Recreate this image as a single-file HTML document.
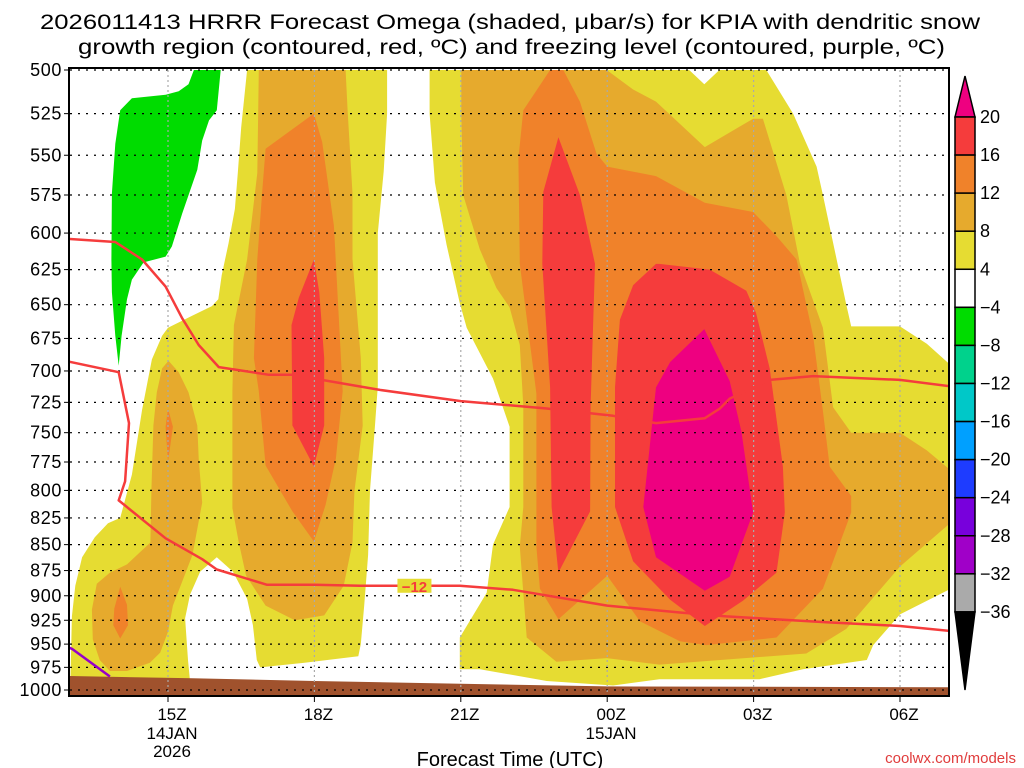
<!DOCTYPE html>
<html><head><meta charset="utf-8"><style>
body{margin:0;background:#fff;}
svg{display:block;font-family:"Liberation Sans",sans-serif;}
</style></head><body>
<svg id="chart" width="1024" height="768" viewBox="0 0 1024 768">
<text x="40" y="29" font-size="21" textLength="940" lengthAdjust="spacingAndGlyphs">2026011413 HRRR Forecast Omega (shaded, μbar/s) for KPIA with dendritic snow</text>
<text x="78" y="54" font-size="21" textLength="867" lengthAdjust="spacingAndGlyphs">growth region (contoured, red, ºC) and freezing level (contoured, purple, ºC)</text>
<defs><clipPath id="plotclip"><rect x="70" y="69" width="878" height="627"/></clipPath></defs>
<g id="fills" clip-path="url(#plotclip)"></g>
<g id="grid"></g>
<g id="lines" clip-path="url(#plotclip)"></g>
<rect x="69" y="68" width="880" height="628" fill="none" stroke="#000" stroke-width="2"/>
<g id="axes"></g>
<g id="cbar"></g>
<text x="510" y="766" font-size="20" text-anchor="middle">Forecast Time (UTC)</text>
<text x="1016" y="763" font-size="15" text-anchor="end" fill="#e03c3c">coolwx.com/models</text>
</svg>
<script>
// ---- data (hour from 00Z 14 Jan, pressure hPa) ----
const pressureLevels=[500,525,550,575,600,625,650,675,700,725,750,775,800,825,850,875,900,925,950,975,1000];
const timeTicks=[15,18,21,24,27,30];
const timeLabels=["15Z","18Z","21Z","00Z","03Z","06Z"];
const cbarLabels=["20","16","12","8","4","−4","−8","−12","−16","−20","−24","−28","−32","−36"];
const cbarColors=["#f53c3c","#f0822a","#e6aa2d","#e6dc32","#ffffff","#00dc00","#00d28c","#00c8c8","#00a0ff","#1e3cff","#7800dc","#a000c8","#aaaaaa"];
const yellowLeft=[[16.62,500],[19.49,500],[19.49,525],[19.42,560],[19.3,600],[19.3,650],[19.3,712],[19.24,745],[19.14,800],[19.1,860],[19.02,910],[18.95,950],[18.9,963],[17.8,970],[16.89,975],[16.82,967],[16.74,930],[16.62,903],[16.33,876],[16.0,862],[15.66,876],[15.45,899],[15.35,923],[15.41,967],[15.45,990],[13.0,990],[13.03,921],[13.1,890],[13.24,862],[13.5,843],[13.77,830],[14.02,825],[14.26,786],[14.47,731],[14.67,691],[14.88,673],[15.0,667],[15.5,658],[15.9,651],[16.03,646],[16.1,629],[16.24,607],[16.37,584],[16.43,561],[16.5,533]];
const goldLeftLobe=[[14.88,698],[15.01,692],[15.22,701],[15.42,717],[15.6,744],[15.63,772],[15.7,811],[15.5,860],[15.1,910],[15.0,937],[14.84,959],[14.63,970],[14.16,979],[13.81,979],[13.6,967],[13.46,945],[13.44,914],[13.54,888],[13.81,877],[14.16,869],[14.43,857],[14.64,848],[14.66,800],[14.7,744],[14.77,717]];
const orangeLeftBlob=[[14.02,891],[14.16,909],[14.18,930],[14.02,944],[13.88,930],[13.9,913]];
const orangeTinyBlob=[[15.0,730],[15.1,745],[15.0,775],[14.95,745]];
const goldColumn=[[16.86,500],[18.64,500],[18.68,523],[18.78,574],[18.78,618],[18.95,690],[18.99,744],[18.82,801],[18.78,848],[18.6,890],[18.2,920],[17.6,925],[17.0,910],[16.6,880],[16.45,848],[16.32,816],[16.32,716],[16.35,665],[16.62,618],[16.83,561]];
const orangeColumn=[[17.99,525],[18.16,542],[18.4,595],[18.58,716],[18.44,772],[18.23,813],[17.99,847],[17.55,819],[17.0,778],[16.86,716],[16.76,690],[16.83,618],[16.93,573],[17.0,546]];
const redColumn=[[17.99,618],[18.1,641],[18.2,690],[18.2,744],[17.99,779],[17.55,744],[17.53,665],[17.68,645]];
const yellowCenter=[[20.36,500],[25.68,500],[25.99,508],[26.3,500],[27.26,500],[27.81,525],[28.29,557],[28.42,575],[28.9,650],[29.0,666],[30.0,666],[30.55,679],[31.2,701],[31.2,889],[30.0,919],[29.45,951],[29.32,967],[28.01,977],[27.12,988],[25.07,988],[24.12,995],[22.76,990],[21.39,977],[20.98,977],[20.98,943],[21.53,897],[21.66,850],[22.0,815],[22.0,745],[21.66,706],[21.12,667],[20.98,649],[20.71,608],[20.47,567],[20.36,525]];
const goldCenter=[[21.01,500],[23.99,500],[24.53,511],[25.0,518],[26.0,545],[26.99,528],[27.19,528],[27.67,575],[27.95,621],[28.42,667],[28.63,729],[29.0,750],[30.0,750],[30.55,765],[31.2,788],[31.2,823],[30.0,871],[28.9,934],[28.08,960],[25.07,972],[23.99,965],[22.96,969],[22.35,943],[22.21,852],[22.28,815],[22.28,728],[22.21,680],[22.0,652],[21.73,638],[21.39,611],[21.05,575],[21.01,525]];
const orangeCenter=[[22.83,500],[23.1,500],[23.44,518],[23.78,549],[24.0,557],[25.0,563],[26.0,580],[26.99,586],[27.47,602],[27.88,618],[28.22,673],[28.42,732],[28.56,779],[29.0,805],[29.0,820],[28.42,893],[27.47,943],[26.03,951],[25.49,947],[24.67,926],[24.0,880],[23.0,924],[22.62,893],[22.55,852],[22.55,718],[22.21,621],[22.18,552],[22.28,523]];
const redCenterColumn=[[23.0,539],[23.44,575],[23.75,621],[23.66,728],[23.65,819],[23.0,877],[22.86,815],[22.83,713],[22.67,621],[22.69,573]];
const redBig=[[25.07,621],[26.1,625],[26.85,640],[27.05,656],[27.33,698],[27.6,779],[27.64,820],[27.47,877],[26.78,905],[26.0,931],[25.29,904],[24.53,866],[24.16,815],[24.16,713],[24.26,661],[24.53,636],[25.0,621]];
const magentaCore=[[25.99,668],[26.51,708],[26.75,749],[26.99,820],[26.51,881],[26.0,895],[25.0,862],[24.74,815],[25.0,713],[25.29,693]];
const greenRegion=[[15.53,500],[15.42,508],[15.22,512],[14.95,514],[14.26,516],[14.02,523],[13.92,543],[13.85,574],[13.84,618],[13.85,641],[13.92,673],[13.99,696],[14.05,673],[14.16,646],[14.26,632],[14.5,620],[14.95,616],[15.08,609],[15.29,587],[15.6,559],[15.7,541],[15.84,529],[16.0,523],[16.08,500]];
const groundTop=[[12.5,984],[15.5,987],[18,990],[21,993],[24,996],[31.5,997]];
const dgzTop=[[12.5,603],[13.92,606],[14.47,618],[14.95,637],[15.29,660],[15.63,680],[16.04,697],[17.07,703],[17.55,703],[19.34,715],[21.0,724],[22.76,730],[24.12,736],[25.0,742],[26.0,738],[26.31,730],[26.51,722],[27.33,707],[28.22,704],[30.0,707],[31.2,713]];
const dgzBottom=[[12.5,689],[13.99,701],[14.2,742],[14.12,792],[13.99,809],[14.95,844],[15.7,864],[16.0,874],[17.03,889],[18.0,889],[18.94,890],[20.98,890],[22.07,894],[24.0,910],[25.49,917],[26.44,921],[28.49,927],[30.0,931],[31.2,937]];
const freezingLine=[[12.8,950],[13.03,955],[13.81,985]];
const dgzLabel={h:20.05,p:890,text:"−12"};

// ---- axis functions ----
function X(h){return 168+(h-15)*48.8;}
function Y(p){return 70+Math.log(p/500)/Math.LN2*620;}
const NS="http://www.w3.org/2000/svg";
function mk(tag,attrs,parent){const e=document.createElementNS(NS,tag);for(const k in attrs)e.setAttribute(k,attrs[k]);parent.appendChild(e);return e;}
function pts(arr){return arr.map(d=>X(d[0]).toFixed(1)+","+Y(d[1]).toFixed(1)).join(" ");}
const fills=document.getElementById("fills");
function poly(arr,color,name){
  const e=mk("polygon",{points:pts(arr),fill:color},fills);
  
  
}
poly(yellowLeft,"#e6dc32","omega-4-8-left");
poly(yellowCenter,"#e6dc32","omega-4-8-center");
poly(goldLeftLobe,"#e6aa2d","omega-8-12-left-lobe");
poly(goldColumn,"#e6aa2d","omega-8-12-column");
poly(goldCenter,"#e6aa2d","omega-8-12-center");
poly(orangeLeftBlob,"#f0822a","omega-12-16-left-blob");
poly(orangeTinyBlob,"#f0822a","omega-12-16-tiny-blob");
poly(orangeColumn,"#f0822a","omega-12-16-column");
poly(orangeCenter,"#f0822a","omega-12-16-center");
poly(redColumn,"#f53c3c","omega-16-20-column");
poly(redCenterColumn,"#f53c3c","omega-16-20-center-column");
poly(redBig,"#f53c3c","omega-16-20-big");
poly(magentaCore,"#ee0080","omega-20-plus-core");
poly(greenRegion,"#00dc00","omega-minus4-8");
const ground=groundTop.concat([[31.5,1010],[12.5,1010]]);
poly(ground,"#a0522d","ground");

// grid
const grid=document.getElementById("grid");
pressureLevels.forEach(p=>{
  const l=mk("line",{x1:70,x2:948,y1:Y(p),y2:Y(p),stroke:"#000","stroke-width":1.2,"stroke-dasharray":"2,6"},grid);
  
  
});
timeTicks.forEach(h=>{
  const l=mk("line",{x1:X(h),x2:X(h),y1:70,y2:695,stroke:"#aaa","stroke-width":1.2,"stroke-dasharray":"2,3"},grid);
  
  
});

// lines
const lines=document.getElementById("lines");
function pl(arr,color,name){
  const e=mk("polyline",{points:pts(arr),fill:"none",stroke:color,"stroke-width":2.5,"stroke-linejoin":"round"},lines);
  
  
}
pl(dgzTop,"#f53c3c","dgz-contour-upper");
pl(dgzBottom,"#f53c3c","dgz-contour-lower");
pl(freezingLine,"#9600c8","freezing-level-line");
const lx=X(dgzLabel.h),ly=Y(dgzLabel.p);
const bg=mk("rect",{x:lx-17,y:ly-7,width:34,height:14,fill:"#e6dc32"},lines);


const lt=mk("text",{x:lx,y:ly+6,"font-size":15,"font-weight":"bold",fill:"#f53c3c","text-anchor":"middle"},lines);
lt.textContent=dgzLabel.text;



// axes
const axes=document.getElementById("axes");
pressureLevels.forEach(p=>{
  const t=mk("text",{x:62,y:Y(p)+6,"font-size":18,"text-anchor":"end","letter-spacing":"0.6"},axes);
  t.textContent=p;
  
  
  const tk=mk("line",{x1:64,x2:70,y1:Y(p),y2:Y(p),stroke:"#000","stroke-width":1},axes);
  
  
});
timeTicks.forEach((h,i)=>{
  const tk=mk("line",{x1:X(h),x2:X(h),y1:696,y2:702,stroke:"#000","stroke-width":1},axes);
  
  
  const t=mk("text",{x:X(h)+4,y:720,"font-size":17,"text-anchor":"middle"},axes);
  t.textContent=timeLabels[i];
  
  
});
[["14JAN",168,739],["2026",168,757],["15JAN",607,739]].forEach(d=>{
  const t=mk("text",{x:d[1]+4,y:d[2],"font-size":17,"text-anchor":"middle"},axes);
  t.textContent=d[0];
  
  
});

// colorbar
const cb=document.getElementById("cbar");
const cbTop=117,cbStep=38.07,cbX=955,cbW=20;
const tri1=mk("polygon",{points:`${cbX},${cbTop} ${cbX+cbW},${cbTop} ${cbX+cbW/2},76`,fill:"#ee0080",stroke:"#000","stroke-width":1.5},cb);


cbarColors.forEach((c,i)=>{
  const r=mk("rect",{x:cbX,y:cbTop+i*cbStep,width:cbW,height:cbStep,fill:c,stroke:"#000","stroke-width":1.5},cb);
  
  
});
const b=cbTop+cbarColors.length*cbStep;
const tri2=mk("polygon",{points:`${cbX},${b} ${cbX+cbW},${b} ${cbX+cbW/2},690`,fill:"#000",stroke:"#000","stroke-width":1.5},cb);


cbarLabels.forEach((s,i)=>{
  const t=mk("text",{x:980,y:cbTop+i*cbStep+6,"font-size":18},cb);
  t.textContent=s;
  
  
});
</script>
</body></html>
